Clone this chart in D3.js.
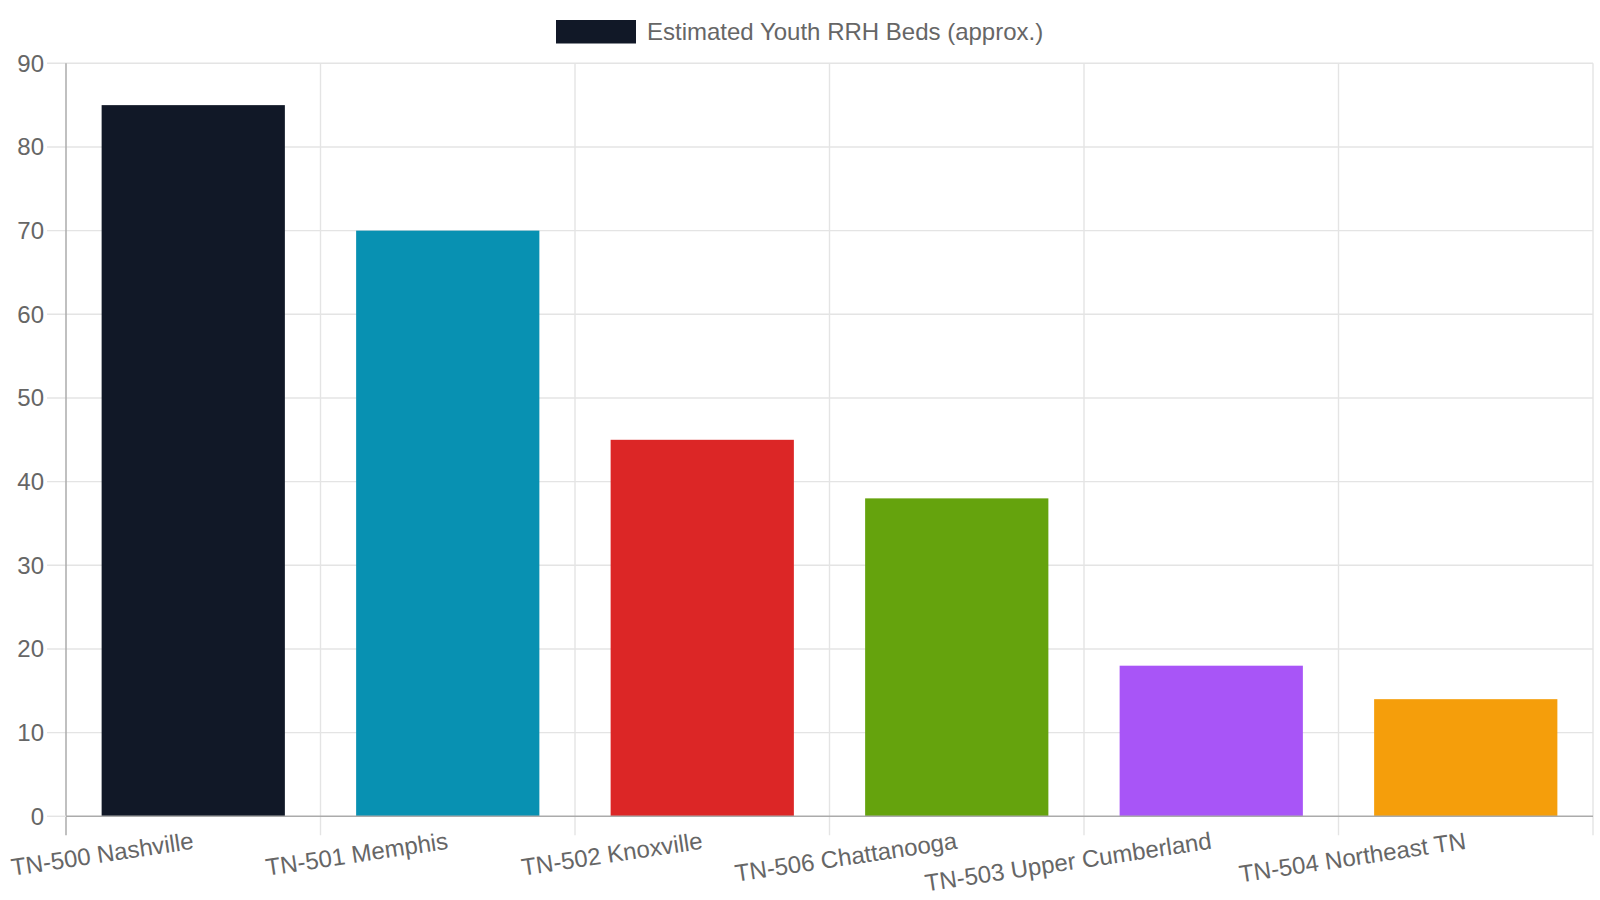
<!DOCTYPE html>
<html>
<head>
<meta charset="utf-8">
<script src="https://cdn.jsdelivr.net/npm/d3@7"></script>
<style>
  body { margin: 0; background: #fff; }
  text { font-family: "Liberation Sans", Arial, sans-serif; fill: #666; }
</style>
</head>
<body>
<div id="chart"></div>
<script>
// data
const categories = ['TN-500 Nashville', 'TN-501 Memphis', 'TN-502 Knoxville',
  'TN-506 Chattanooga', 'TN-503 Upper Cumberland', 'TN-504 Northeast TN'];
const beds = [85, 70, 45, 38, 18, 14];
const barColors = ['#111827', '#0891b2', '#dc2626', '#65a30d', '#a855f7', '#f59e0b'];
const yTicks = [0, 10, 20, 30, 40, 50, 60, 70, 80, 90];
const seriesName = 'Estimated Youth RRH Beds (approx.)';

const width = 1600, height = 900;
const margin = { top: 63.3, right: 7, bottom: 83.7, left: 66 };
const w = width - margin.left - margin.right;
const h = height - margin.top - margin.bottom;
const fontSize = 24;
const tickLen = 19;

const svg = d3.select('#chart').append('svg')
  .attr('width', width)
  .attr('height', height);

// legend
const legend = svg.append('g').attr('class', 'legend');
legend.append('rect')
  .attr('x', 556)
  .attr('y', 20)
  .attr('width', 80)
  .attr('height', 23.5)
  .attr('fill', barColors[0]);
legend.append('text')
  .attr('x', 647)
  .attr('y', 32)
  .attr('dy', '0.35em')
  .style('font-size', fontSize + 'px')
  .text(seriesName);

const chart = svg.append('g')
  .attr('transform', `translate(${margin.left},${margin.top})`);

const xScale = d3.scaleBand()
  .domain(categories)
  .range([0, w]);

const yScale = d3.scaleLinear()
  .domain([0, 90])
  .range([h, 0]);

// horizontal gridlines (with tick marks reaching into the left margin)
chart.append('g')
  .classed('gridline', true)
  .selectAll('line')
  .data(yTicks.filter(d => d !== 0))
  .enter()
  .append('line')
  .attr('x1', -tickLen)
  .attr('x2', w)
  .attr('y1', d => yScale(d))
  .attr('y2', d => yScale(d))
  .attr('stroke', '#e4e4e4')
  .attr('stroke-width', 1.4);

// vertical gridlines at band edges
const edges = categories.map(c => xScale(c)).concat([w]);
chart.append('g')
  .classed('gridline', true)
  .selectAll('line')
  .data(edges.slice(1))
  .enter()
  .append('line')
  .attr('x1', d => d)
  .attr('x2', d => d)
  .attr('y1', 0)
  .attr('y2', h + tickLen)
  .attr('stroke', '#e4e4e4')
  .attr('stroke-width', 1.4);

// bars
const barW = xScale.bandwidth() * 0.72;
chart.selectAll('.bar')
  .data(beds)
  .enter()
  .append('rect')
  .classed('bar', true)
  .attr('x', (d, i) => xScale(categories[i]) + (xScale.bandwidth() - barW) / 2)
  .attr('y', d => yScale(d))
  .attr('width', barW)
  .attr('height', d => h - yScale(d))
  .attr('fill', (d, i) => barColors[i]);

// y axis
const yAxis = chart.append('g').classed('y axis', true);
yAxis.append('line')
  .attr('x1', 0).attr('x2', 0)
  .attr('y1', 0).attr('y2', h + tickLen)
  .attr('stroke', '#ababab')
  .attr('stroke-width', 1.5);
yAxis.append('line')
  .attr('x1', -tickLen).attr('x2', 0)
  .attr('y1', h).attr('y2', h)
  .attr('stroke', '#e4e4e4')
  .attr('stroke-width', 1.4);
yAxis.selectAll('.ylabel')
  .data(yTicks)
  .enter()
  .append('text')
  .attr('x', -tickLen - 3)
  .attr('y', d => yScale(d))
  .attr('dy', '0.35em')
  .attr('text-anchor', 'end')
  .style('font-size', fontSize + 'px')
  .text(d => d);

// x axis
const xAxis = chart.append('g')
  .classed('x axis', true)
  .attr('transform', `translate(0,${h})`);
xAxis.append('line')
  .attr('x1', 0).attr('x2', w)
  .attr('y1', 0).attr('y2', 0)
  .attr('stroke', '#ababab')
  .attr('stroke-width', 1.5);
xAxis.selectAll('.xlabel')
  .data(categories)
  .enter()
  .append('text')
  .attr('text-anchor', 'end')
  .attr('dy', '0.35em')
  .attr('transform', d => `translate(${xScale(d) + xScale.bandwidth() / 2},24) rotate(-8.5)`)
  .style('font-size', fontSize + 'px')
  .text(d => d);
</script>
</body>
</html>
